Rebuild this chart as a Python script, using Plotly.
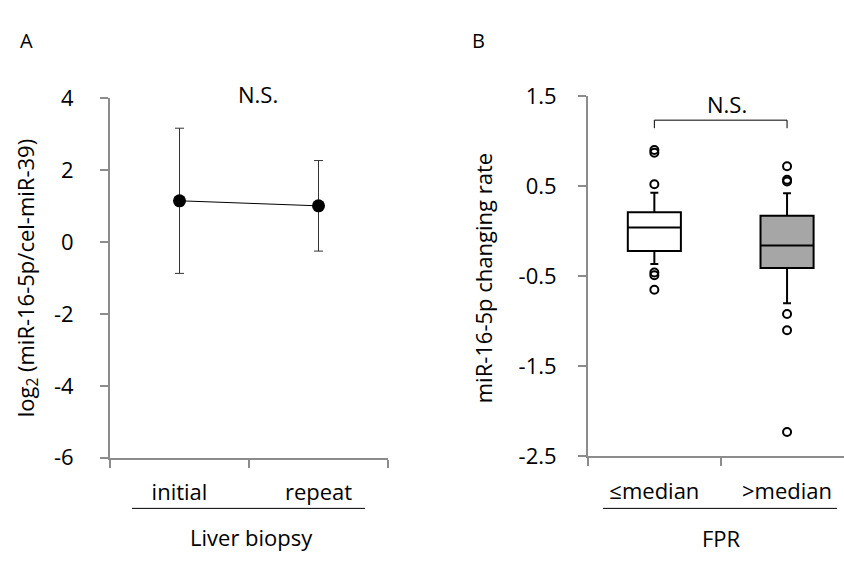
import plotly.graph_objects as go

# ---- Panel A data ----
categories_a = ["initial", "repeat"]
means_a = [1.15, 1.01]
errors_a = [2.02, 1.26]
yticks_a = [4, 2, 0, -2, -4, -6]
yticklabels_a = ["4", "2", "0", "-2", "-4", "-6"]

# ---- Panel B data ----
groups_b = ["≤median", ">median"]
q1_b = [-0.22, -0.41]
median_b = [0.04, -0.16]
q3_b = [0.21, 0.17]
lowerfence_b = [-0.365, -0.80]
upperfence_b = [0.425, 0.42]
outliers_b = [
    [0.90, 0.87, 0.52, -0.46, -0.49, -0.65],
    [0.72, 0.57, 0.55, -0.92, -1.10, -2.23],
]
box_fill_b = ["#ffffff", "#a6a6a6"]
yticks_b = [1.5, 0.5, -0.5, -1.5, -2.5]
yticklabels_b = ["1.5", "0.5", "-0.5", "-1.5", "-2.5"]

FONT = "Open Sans"
AXIS_GREY = "#8c8c8c"
W, H = 844, 565

fig = go.Figure()

# Panel A: mean with error bars
xa = list(range(len(categories_a)))
fig.add_trace(go.Scatter(
    x=xa, y=means_a, mode="lines+markers",
    line=dict(color="black", width=1),
    marker=dict(color="black", size=13),
    error_y=dict(type="data", array=errors_a, color="#333333", thickness=1, width=4.5),
    xaxis="x", yaxis="y", showlegend=False,
))

# Panel B: box plots from precomputed stats
for i, g in enumerate(groups_b):
    fig.add_trace(go.Box(
        x=[i], q1=[q1_b[i]], median=[median_b[i]], q3=[q3_b[i]],
        lowerfence=[lowerfence_b[i]], upperfence=[upperfence_b[i]],
        width=0.4, whiskerwidth=0.15, boxpoints=False,
        fillcolor=box_fill_b[i], line=dict(color="black", width=2),
        xaxis="x2", yaxis="y2", showlegend=False,
    ))
    fig.add_trace(go.Scatter(
        x=[i] * len(outliers_b[i]), y=outliers_b[i], mode="markers",
        marker=dict(symbol="circle-open", size=8, color="black", line=dict(width=2)),
        xaxis="x2", yaxis="y2", showlegend=False,
    ))

def px_x(p):
    return p / W

def px_y(p):
    return 1 - p / H

tickfont = dict(family=FONT, size=22, color="black")

fig.update_layout(
    width=W, height=H,
    margin=dict(l=0, r=0, t=0, b=0),
    plot_bgcolor="white", paper_bgcolor="white",
    font=dict(family=FONT, size=22, color="black"),
    xaxis=dict(
        domain=[px_x(110), px_x(388)], range=[-0.5, 1.5],
        tickvals=xa, ticktext=categories_a, ticks="",
        tickfont=tickfont, ticklabelstandoff=14,
        showline=True, linecolor=AXIS_GREY, linewidth=2,
        showgrid=False, zeroline=False,
        minor=dict(tickvals=[-0.5, 0.5, 1.5], ticks="outside", ticklen=8,
                   tickcolor=AXIS_GREY, tickwidth=2, showgrid=False),
        anchor="y",
    ),
    yaxis=dict(
        domain=[px_y(466.5), px_y(87)], range=[-6, 4],
        tickvals=yticks_a, ticktext=yticklabels_a,
        ticks="outside", ticklen=8, tickcolor=AXIS_GREY, tickwidth=2,
        tickfont=tickfont, ticklabelstandoff=22,
        showline=True, linecolor=AXIS_GREY, linewidth=2,
        showgrid=False, zeroline=False, anchor="x",
    ),
    xaxis2=dict(
        domain=[px_x(588), 1.0], range=[-0.5, -0.5 + 256 / 132.7],
        tickvals=[0, 1], ticktext=groups_b, ticks="",
        tickfont=tickfont, ticklabelstandoff=14,
        showline=True, linecolor=AXIS_GREY, linewidth=2,
        showgrid=False, zeroline=False,
        minor=dict(tickvals=[-0.5, 0.5, 1.5], ticks="outside", ticklen=8,
                   tickcolor=AXIS_GREY, tickwidth=2, showgrid=False),
        anchor="y2",
    ),
    yaxis2=dict(
        domain=[px_y(465), px_y(84.5)], range=[-2.5, 1.5],
        tickvals=yticks_b, ticktext=yticklabels_b,
        ticks="outside", ticklen=8, tickcolor=AXIS_GREY, tickwidth=2,
        tickfont=tickfont, ticklabelstandoff=17,
        showline=True, linecolor=AXIS_GREY, linewidth=2,
        showgrid=False, zeroline=False, anchor="x2",
    ),
)

annots = [
    dict(text="A", x=px_x(26), y=px_y(26), size=20),
    dict(text="B", x=px_x(479), y=px_y(26), size=20),
    dict(text="N.S.", x=px_x(258), y=px_y(82), size=22),
    dict(text="N.S.", x=px_x(727), y=px_y(93), size=22),
    dict(text="Liver biopsy", x=px_x(252), y=px_y(550), size=22),
    dict(text="FPR", x=px_x(721), y=px_y(551), size=22),
    dict(text="log<sub>2</sub> (miR-16-5p/cel-miR-39)", x=px_x(27), y=px_y(277), size=22, angle=-90),
    dict(text="miR-16-5p changing rate", x=px_x(483), y=px_y(277), size=22, angle=-90),
]
for a in annots:
    fig.add_annotation(
        text=a["text"], x=a["x"], y=a["y"], xref="paper", yref="paper",
        xanchor="center", yanchor="middle", showarrow=False,
        textangle=a.get("angle", 0),
        font=dict(family=FONT, size=a["size"], color="black"),
    )

# underlines beneath category labels
fig.add_shape(type="line", xref="paper", yref="paper",
              x0=px_x(132), x1=px_x(365), y0=px_y(520), y1=px_y(520),
              line=dict(color="black", width=1))
fig.add_shape(type="line", xref="paper", yref="paper",
              x0=px_x(603), x1=px_x(837), y0=px_y(520), y1=px_y(520),
              line=dict(color="black", width=1))

# significance bracket in panel B (data x, paper y)
bracket_y_top = px_y(110)
bracket_y_bot = px_y(118.5)
fig.add_shape(type="path", xref="x2", yref="paper",
              path=f"M 0,{bracket_y_bot} L 0,{bracket_y_top} L 1,{bracket_y_top} L 1,{bracket_y_bot}",
              line=dict(color="black", width=1))

fig.write_html("out.html")
